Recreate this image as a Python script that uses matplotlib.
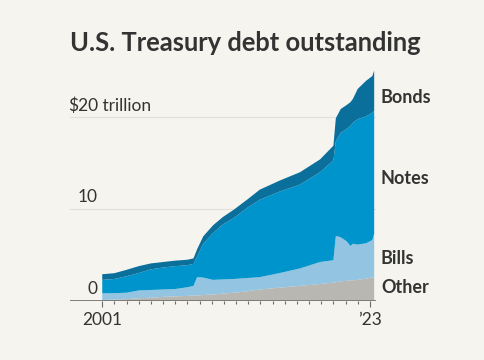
import numpy as np
import matplotlib
matplotlib.use('Agg')
import matplotlib.pyplot as plt

# approximate read-off of the chart, trillions of dollars
years = [2001.0, 2002.0, 2003.0, 2004.0, 2005.0, 2006.0, 2007.0, 2008.0, 2008.5, 2008.8,
         2009.3, 2010.1, 2010.9, 2011.8, 2012.9, 2013.95, 2015.6, 2017.25, 2018.9, 2020.0,
         2020.2, 2020.6, 2021.1, 2021.4, 2021.6, 2022.0, 2022.7, 2023.2, 2023.35]
other = [0.05, 0.1, 0.15, 0.25, 0.3, 0.4, 0.45, 0.5, 0.55, 0.55,
         0.6, 0.65, 0.75, 0.85, 1.0, 1.2, 1.4, 1.6, 1.8, 1.95,
         2.0, 2.1, 2.15, 2.2, 2.2, 2.25, 2.4, 2.5, 2.5]
bills = [0.74, 0.7, 0.7, 0.85, 0.85, 0.8, 0.8, 0.95, 1.05, 2.0,
         1.9, 1.6, 1.55, 1.5, 1.45, 1.35, 1.6, 1.9, 2.4, 2.45,
         5.05, 4.8, 4.3, 3.75, 4.0, 3.85, 3.85, 4.1, 4.8]
notes = [1.46, 1.55, 1.8, 1.9, 2.25, 2.4, 2.5, 2.4, 2.4, 2.25,
         3.7, 5.1, 6.0, 6.65, 7.65, 8.45, 8.9, 9.15, 9.8, 10.9,
         10.35, 11.4, 12.3, 13.1, 13.2, 13.7, 13.85, 13.9, 13.4]
bonds = [0.62, 0.63, 0.7, 0.75, 0.65, 0.6, 0.6, 0.6, 0.6, 0.8,
         0.8, 0.85, 0.8, 0.9, 0.9, 1.1, 1.2, 1.35, 1.4, 1.6,
         2.5, 2.6, 2.6, 2.6, 2.6, 3.3, 3.9, 4.0, 4.4]

series_names = ['Other', 'Bills', 'Notes', 'Bonds']
colors = ['#b9b7b2', '#93c4e1', '#0094cc', '#0b6f9c']
label_px = [287.5, 258, 178, 97.5]  # vertical pixel position of each right label
tick_years = list(range(2001, 2024))

bg = '#f5f4ee'
txt = '#333333'
plt.rcParams['font.family'] = ['Lato', 'DejaVu Sans']

W, H = 485, 360
fig = plt.figure(figsize=(W / 100, H / 100), dpi=100, facecolor=bg)

ax_l, ax_r = 70, 376
ax_b, ax_t = 300.5, 62.3
ax = fig.add_axes([ax_l / W, (H - ax_b) / H, (ax_r - ax_l) / W, (ax_b - ax_t) / H])
ax.set_facecolor(bg)

ax.stackplot(years, other, bills, notes, bonds, colors=colors, linewidth=0)

ax.set_xlim(1998.35, 2023.5)
ax.set_ylim(0, 26)

# gridlines
for v in [10, 20]:
    ax.axhline(v, color='#e2e0da', linewidth=0.8, zorder=0)
ax.axhline(0, color='#6a6a6a', linewidth=1.2, zorder=3)

for s in ax.spines.values():
    s.set_visible(False)
ax.set_yticks([])
ax.set_xticks([2001, 2023])
ax.set_xticks(tick_years, minor=True)
ax.set_xticklabels([])
ax.tick_params(axis='x', which='major', length=4.5, width=0.8, color='#6a6a6a', direction='out')
ax.tick_params(axis='x', which='minor', length=2.5, width=0.8, color='#6a6a6a', direction='out')

# y labels, right aligned just left of data start
ax.text(2000.65, 20.4, '$20', ha='right', va='bottom', fontsize=12.5, color=txt)
ax.text(2000.65, 20.4, ' trillion', ha='left', va='bottom', fontsize=12.5, color=txt)
ax.text(2000.65, 10.4, '10', ha='right', va='bottom', fontsize=12.5, color=txt)
ax.text(2000.65, 0.4, '0', ha='right', va='bottom', fontsize=12.5, color=txt)

# x labels
ax.text(2001, -1.3, '2001', ha='center', va='top', fontsize=12.5, color=txt)
ax.text(2023, -1.3, '\u201923', ha='center', va='top', fontsize=12.5, color=txt)

# series labels on the right
for name, ypx in zip(series_names, label_px):
    fig.text(381 / W, 1 - ypx / H, name, ha='left', va='center', fontsize=13,
             fontweight='bold', color=txt)

fig.text(245.5 / W, 1 - 43 / H, 'U.S. Treasury debt outstanding', ha='center', va='center',
         fontsize=18.4, fontweight='bold', color=txt)

fig.savefig('out.png', dpi=100, facecolor=bg)
